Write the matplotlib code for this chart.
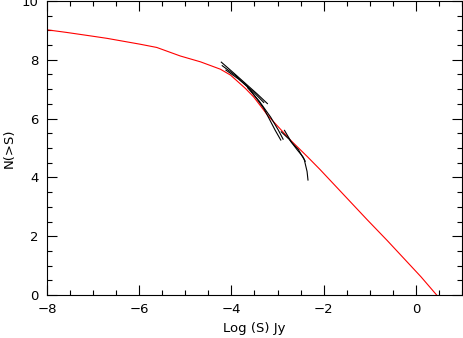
import matplotlib
matplotlib.use("Agg")
import matplotlib.pyplot as plt
from matplotlib.ticker import MultipleLocator

# Model source counts (red)
model_logs = [-8.0, -7.57, -7.0, -6.70, -5.98, -5.62, -5.11, -4.67, -4.24, -4.02,
              -3.70, -3.52, -3.30, -3.22, -2.72, -2.35, -2.08, -1.05, -0.62, 0.11, 0.45]
model_n = [9.02, 8.93, 8.80, 8.73, 8.53, 8.42, 8.13, 7.93, 7.68, 7.48,
           7.03, 6.74, 6.29, 6.12, 5.27, 4.70, 4.27, 2.55, 1.85, 0.62, 0.0]

# Observed counts from individual surveys (black)
obs_logs = [
    [-4.22, -3.95, -3.70, -3.45, -3.22],
    [-4.20, -3.90, -3.60, -3.30, -3.05, -2.93],
    [-4.12, -3.85, -3.55, -3.30],
    [-3.65, -3.40, -3.15, -2.98, -2.88],
    [-2.85, -2.70, -2.55, -2.42, -2.36, -2.34],
    [-2.92, -2.75, -2.58, -2.45, -2.40],
]
obs_n = [
    [7.92, 7.55, 7.20, 6.85, 6.51],
    [7.80, 7.45, 7.00, 6.35, 5.60, 5.27],
    [7.65, 7.35, 6.95, 6.55],
    [7.05, 6.60, 6.05, 5.60, 5.30],
    [5.60, 5.20, 4.95, 4.60, 4.20, 3.91],
    [5.55, 5.30, 4.95, 4.70, 4.55],
]

fig = plt.figure(figsize=(4.63, 3.38), dpi=100)
ax = fig.add_axes([47 / 463, 43 / 338, 415 / 463, 294 / 338])

ax.plot(model_logs, model_n, color="red", lw=0.8)
for xs, ys in zip(obs_logs, obs_n):
    ax.plot(xs, ys, color="black", lw=0.8)

ax.set_xlim(-8, 1)
ax.set_ylim(0, 10)
ax.xaxis.set_major_locator(MultipleLocator(2))
ax.xaxis.set_minor_locator(MultipleLocator(0.5))
ax.yaxis.set_major_locator(MultipleLocator(2))
ax.yaxis.set_minor_locator(MultipleLocator(0.5))
ax.tick_params(which="both", direction="in", top=True, right=True,
               width=0.8, labelsize=9.5, pad=6)
ax.tick_params(which="major", length=7)
ax.tick_params(which="minor", length=3.6)
for sp in ax.spines.values():
    sp.set_linewidth(0.8)

ax.set_xlabel("Log (S) Jy", fontsize=9.5, labelpad=4)
ax.set_ylabel("N(>S)", fontsize=9.5)
ax.yaxis.set_label_coords(-0.075, 0.5)

fig.savefig("out.png", dpi=100)
